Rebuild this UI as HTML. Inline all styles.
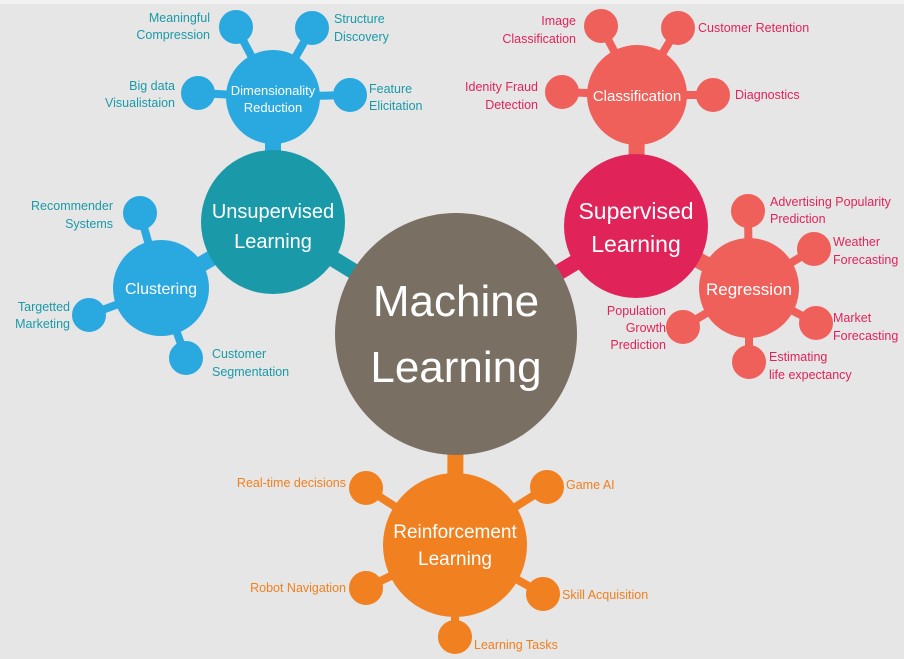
<!DOCTYPE html>
<html><head><style>
html,body{margin:0;padding:0;background:#e6e6e6}
svg{display:block}
text{font-family:"Liberation Sans",sans-serif}
</style></head><body>
<svg width="904" height="659" viewBox="0 0 904 659">
<rect width="904" height="659" fill="#e6e6e6"/>
<rect width="904" height="4" fill="#f2f2f2"/>
<g stroke-linecap="butt">
<line x1="273" y1="222" x2="456" y2="334" stroke="#1a9aa8" stroke-width="16"/>
<line x1="636" y1="226" x2="456" y2="334" stroke="#e0245a" stroke-width="16"/>
<line x1="455" y1="545" x2="456" y2="334" stroke="#f08020" stroke-width="16"/>
<line x1="273" y1="97" x2="273" y2="222" stroke="#2aa8e0" stroke-width="16"/>
<line x1="161" y1="288" x2="273" y2="222" stroke="#2aa8e0" stroke-width="16"/>
<line x1="637" y1="95" x2="636" y2="226" stroke="#f0605a" stroke-width="16"/>
<line x1="749" y1="288" x2="636" y2="226" stroke="#f0605a" stroke-width="16"/>
</g>
<g stroke="#2aa8e0" stroke-width="8" fill="#2aa8e0">
<line x1="273" y1="97" x2="236" y2="27"/><circle cx="236" cy="27" r="13"/>
<line x1="273" y1="97" x2="312" y2="28"/><circle cx="312" cy="28" r="13"/>
<line x1="273" y1="97" x2="198" y2="93"/><circle cx="198" cy="93" r="13"/>
<line x1="273" y1="97" x2="350" y2="95"/><circle cx="350" cy="95" r="13"/>
<line x1="161" y1="288" x2="140" y2="213"/><circle cx="140" cy="213" r="13"/>
<line x1="161" y1="288" x2="89" y2="315"/><circle cx="89" cy="315" r="13"/>
<line x1="161" y1="288" x2="186" y2="358"/><circle cx="186" cy="358" r="13"/>
</g>
<g stroke="#f0605a" stroke-width="8" fill="#f0605a">
<line x1="637" y1="95" x2="601" y2="26"/><circle cx="601" cy="26" r="13"/>
<line x1="637" y1="95" x2="678" y2="28"/><circle cx="678" cy="28" r="13"/>
<line x1="637" y1="95" x2="713" y2="95"/><circle cx="713" cy="95" r="13"/>
<line x1="637" y1="95" x2="562" y2="92"/><circle cx="562" cy="92" r="13"/>
<line x1="749" y1="288" x2="748" y2="211"/><circle cx="748" cy="211" r="13"/>
<line x1="749" y1="288" x2="814" y2="249"/><circle cx="814" cy="249" r="13"/>
<line x1="749" y1="288" x2="816" y2="323"/><circle cx="816" cy="323" r="13"/>
<line x1="749" y1="288" x2="749" y2="362"/><circle cx="749" cy="362" r="13"/>
<line x1="749" y1="288" x2="683" y2="327"/><circle cx="683" cy="327" r="13"/>
</g>
<g stroke="#f08020" stroke-width="8" fill="#f08020">
<line x1="455" y1="545" x2="366" y2="488"/><circle cx="366" cy="488" r="13"/>
<line x1="455" y1="545" x2="547" y2="487"/><circle cx="547" cy="487" r="13"/>
<line x1="455" y1="545" x2="366" y2="588"/><circle cx="366" cy="588" r="13"/>
<line x1="455" y1="545" x2="543" y2="594"/><circle cx="543" cy="594" r="13"/>
<line x1="455" y1="545" x2="455" y2="637"/><circle cx="455" cy="637" r="13"/>
</g>
<circle cx="273" cy="97" r="47" fill="#2aa8e0"/>
<circle cx="161" cy="288" r="48" fill="#2aa8e0"/>
<circle cx="273" cy="222" r="72" fill="#1a9aa8"/>
<circle cx="637" cy="95" r="50" fill="#f0605a"/>
<circle cx="749" cy="288" r="50" fill="#f0605a"/>
<circle cx="636" cy="226" r="72" fill="#e0245a"/>
<circle cx="455" cy="545" r="72" fill="#f08020"/>
<circle cx="456" cy="334" r="121" fill="#7a6f63"/>
<g fill="#fff" text-anchor="middle">
<text x="456" y="316" font-size="44">Machine</text>
<text x="456" y="382" font-size="44">Learning</text>
<text x="273" y="218" font-size="20">Unsupervised</text>
<text x="273" y="248" font-size="20">Learning</text>
<text x="273" y="95" font-size="13">Dimensionality</text>
<text x="273" y="112" font-size="13">Reduction</text>
<text x="161" y="294" font-size="16">Clustering</text>
<text x="636" y="219" font-size="23">Supervised</text>
<text x="636" y="252" font-size="23">Learning</text>
<text x="637" y="101" font-size="15">Classification</text>
<text x="749" y="295" font-size="17">Regression</text>
<text x="455" y="538" font-size="19">Reinforcement</text>
<text x="455" y="565" font-size="19">Learning</text>
</g>
<g fill="#1a9aa8" font-size="12.5">
<text x="210" y="22" text-anchor="end">Meaningful</text>
<text x="210" y="39" text-anchor="end">Compression</text>
<text x="334" y="23">Structure</text>
<text x="334" y="41">Discovery</text>
<text x="175" y="90" text-anchor="end">Big data</text>
<text x="175" y="107" text-anchor="end">Visualistaion</text>
<text x="369" y="93">Feature</text>
<text x="369" y="110">Elicitation</text>
<text x="113" y="210" text-anchor="end">Recommender</text>
<text x="113" y="228" text-anchor="end">Systems</text>
<text x="70" y="311" text-anchor="end">Targetted</text>
<text x="70" y="328" text-anchor="end">Marketing</text>
<text x="212" y="358">Customer</text>
<text x="212" y="376">Segmentation</text>
</g>
<g fill="#e0245a" font-size="12.5">
<text x="576" y="25" text-anchor="end">Image</text>
<text x="576" y="43" text-anchor="end">Classification</text>
<text x="698" y="32">Customer Retention</text>
<text x="538" y="91" text-anchor="end">Idenity Fraud</text>
<text x="538" y="109" text-anchor="end">Detection</text>
<text x="735" y="99">Diagnostics</text>
<text x="770" y="206">Advertising Popularity</text>
<text x="770" y="223">Prediction</text>
<text x="833" y="246">Weather</text>
<text x="833" y="264">Forecasting</text>
<text x="666" y="315" text-anchor="end">Population</text>
<text x="666" y="332" text-anchor="end">Growth</text>
<text x="666" y="349" text-anchor="end">Prediction</text>
<text x="833" y="322">Market</text>
<text x="833" y="340">Forecasting</text>
<text x="769" y="361">Estimating</text>
<text x="769" y="379">life expectancy</text>
</g>
<g fill="#f08020" font-size="12.5">
<text x="346" y="487" text-anchor="end">Real-time decisions</text>
<text x="566" y="489">Game AI</text>
<text x="346" y="592" text-anchor="end">Robot Navigation</text>
<text x="562" y="599">Skill Acquisition</text>
<text x="474" y="649">Learning Tasks</text>
</g>
</svg>
</body></html>
